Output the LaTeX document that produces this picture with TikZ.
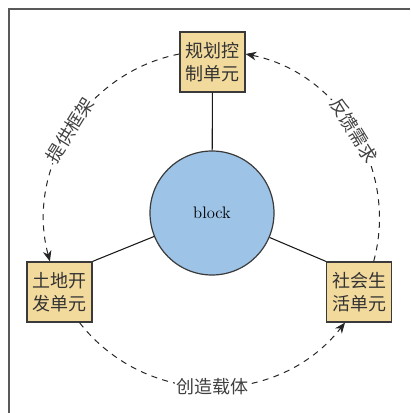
\documentclass[tikz,border=0pt]{standalone}
\usepackage{fontspec}
\newfontfamily\cjk{Noto Sans CJK SC}
\usetikzlibrary{arrows.meta}
\definecolor{boxfill}{HTML}{F2D99C}
\definecolor{circfill}{HTML}{9DC3E6}
\definecolor{edgecol}{HTML}{3A3A3A}
\begin{document}
\begin{tikzpicture}[x=0.75pt,y=0.75pt,
  unitbox/.style={draw=edgecol, line width=0.9pt, fill=boxfill, minimum width=48.75pt, minimum height=45pt, inner sep=0pt, align=center, font=\cjk\fontsize{13.5}{17}\selectfont, text=black!80},
  hub/.style={circle, draw=edgecol, line width=0.9pt, fill=circfill, minimum size=93pt, inner sep=0pt, font=\fontsize{12.5}{14}\selectfont},
  link/.style={draw=black!90, line width=0.8pt},
  flow/.style={draw=black!85, line width=0.75pt, dash pattern=on 4.5pt off 4pt, -{Stealth[length=8pt,width=6.5pt,inset=2.5pt]}},
  flowlabel/.style={fill=white, inner sep=1pt, font=\cjk\fontsize{13.5}{16}\selectfont, text=black!75}
]
\useasboundingbox (0,0) rectangle (410,-413);
\draw[draw=black!65, line width=1.1pt] (410,-9) -- (9,-9) -- (9,-413);

\node[hub] (c) at (212,-213) {block};
\node[unitbox] (top) at (212.5,-62) {规划控\\制单元};
\node[unitbox] (left) at (59.5,-292) {土地开\\发单元};
\node[unitbox] (right) at (359,-292) {社会生\\活单元};

\draw[link] (c) -- (top);
\draw[link] (c) -- (left.north east);
\draw[link] (c) -- (right.north west);

\draw[flow] ([yshift=6pt]top.west) to[bend right=47]
  node[flowlabel, midway, sloped] {提供框架} ([xshift=-7.2pt]left.north);
\draw[flow] ([xshift=11pt]right.north) to[bend right=47]
  node[flowlabel, midway, sloped] {反馈需求} ([yshift=6pt]top.east);
\draw[flow] ([xshift=15pt]left.south) to[bend right=52, looseness=1.05]
  node[flowlabel, midway] {创造载体} ([xshift=-10.5pt]right.south);
\end{tikzpicture}
\end{document}
